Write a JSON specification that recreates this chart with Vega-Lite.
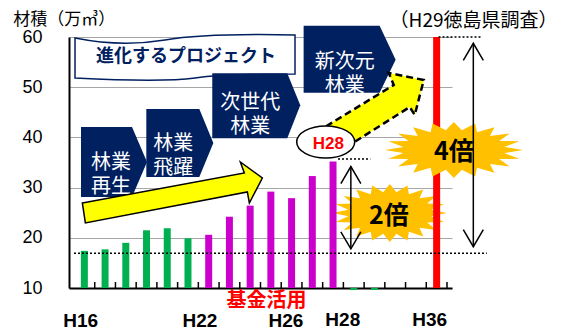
{
  "$schema": "https://vega.github.io/schema/vega-lite/v6.json",
  "width": 383,
  "height": 251,
  "autosize": {"type": "none"},
  "padding": {"left": 69, "top": 37, "right": 117, "bottom": 43},
  "background": "white",
  "config": {"view": {"stroke": null}, "font": "Noto Sans CJK JP"},
  "datasets": {
    "bars": [
      {"year": "H16", "i": 0, "v": 17.4, "g": "pre"},
      {"year": "H17", "i": 1, "v": 17.7, "g": "pre"},
      {"year": "H18", "i": 2, "v": 19.0, "g": "pre"},
      {"year": "H19", "i": 3, "v": 21.5, "g": "pre"},
      {"year": "H20", "i": 4, "v": 21.9, "g": "pre"},
      {"year": "H21", "i": 5, "v": 19.9, "g": "pre"},
      {"year": "H22", "i": 6, "v": 20.6, "g": "fund"},
      {"year": "H23", "i": 7, "v": 24.2, "g": "fund"},
      {"year": "H24", "i": 8, "v": 26.4, "g": "fund"},
      {"year": "H25", "i": 9, "v": 29.2, "g": "fund"},
      {"year": "H26", "i": 10, "v": 27.9, "g": "fund"},
      {"year": "H27", "i": 11, "v": 32.3, "g": "fund"},
      {"year": "H28", "i": 12, "v": 35.2, "g": "fund"},
      {"year": "H29", "i": 13, "v": 9.6, "g": "post"},
      {"year": "H30", "i": 14, "v": 9.6, "g": "post"},
      {"year": "H36", "i": 17, "v": 60, "g": "goal"}
    ],
    "ticks": [
      {"b": 0.5}, {"b": 1.5}, {"b": 2.5}, {"b": 3.5}, {"b": 4.5}, {"b": 5.5},
      {"b": 6.5}, {"b": 7.5}, {"b": 8.5}, {"b": 9.5}, {"b": 10.5}, {"b": 11.5},
      {"b": 12.5}, {"b": 13.5}, {"b": 14.5}, {"b": 15.5}, {"b": 16.5}, {"b": 17.5}
    ],
    "boxes": [
      {"name": "b1", "x": 1.286, "y": 34.9, "t": "林業\n再生"},
      {"name": "b2", "x": 4.293, "y": 38.69, "t": "林業\n飛躍"},
      {"name": "b3", "x": 8.006, "y": 46.79, "t": "次世代\n林業"},
      {"name": "b4", "x": 12.56, "y": 55.08, "t": "新次元\n林業"}
    ],
    "arrows": [
      {"x": 12.86, "top": 34.2, "bot": 17.8},
      {"x": 18.77, "top": 58.75, "bot": 18.23}
    ]
  },
  "layer": [
    {
      "data": {"values": [{"x": 14.74, "y": 24.94}]},
      "mark": {"type": "point", "shape": "M57,0 L41.5,3.3 L54.2,9 L37.4,9.5 L46.1,17 L29.7,14.8 L33.5,23.5 L19.1,18.7 L17.6,27.6 L6.6,20.7 L0,29 L-6.6,20.7 L-17.6,27.6 L-19.1,18.7 L-33.5,23.5 L-29.7,14.8 L-46.1,17 L-37.4,9.5 L-54.2,9 L-41.5,3.3 L-57,0 L-41.5,-3.3 L-54.2,-9 L-37.4,-9.5 L-46.1,-17 L-29.7,-14.8 L-33.5,-23.5 L-19.1,-18.7 L-17.6,-27.6 L-6.6,-20.7 L0,-29 L6.6,-20.7 L17.6,-27.6 L19.1,-18.7 L33.5,-23.5 L29.7,-14.8 L46.1,-17 L37.4,-9.5 L54.2,-9 L41.5,-3.3 Z", "size": 4, "filled": true, "fill": "#FFC000", "opacity": 1, "strokeWidth": 0},
      "encoding": {
        "x": {"field": "x", "type": "quantitative", "title": null, "scale": {"domain": [-0.5, 17.5], "nice": false, "zero": false},
          "axis": {"labels": false, "title": null, "grid": false, "ticks": false, "domain": true, "domainColor": "black", "domainWidth": 2}},
        "y": {"field": "y", "type": "quantitative", "title": null, "scale": {"domain": [10, 60], "nice": false, "zero": false},
          "axis": {"values": [10, 20, 30, 40, 50, 60], "title": null, "grid": true, "gridColor": "#A6A6A6", "gridWidth": 1, "ticks": false, "tickSize": 0, "labelPadding": 27, "labelFont": "Liberation Sans", "labelFontSize": 18, "labelColor": "black", "domain": true, "domainColor": "black", "domainWidth": 2}}
      }
    },
    {
      "data": {"name": "bars"},
      "mark": {"type": "bar", "size": 7},
      "encoding": {
        "x": {"field": "i", "type": "quantitative", "title": null},
        "y": {"field": "v", "type": "quantitative", "title": null},
        "y2": {"datum": 10},
        "color": {"field": "g", "type": "nominal", "scale": {"domain": ["pre", "fund", "post", "goal"], "range": ["#00B050", "#CC00CC", "#00B050", "#FF0000"]}, "legend": null}
      }
    },
    {
      "data": {"name": "ticks"},
      "mark": {"type": "rule", "color": "black", "strokeWidth": 1.5},
      "encoding": {
        "x": {"field": "b", "type": "quantitative", "title": null},
        "y": {"datum": 10},
        "y2": {"datum": 11.2}
      }
    },
    {
      "data": {"values": [
        {"x1": -0.5, "x2": 19.42, "y": 16.9},
        {"x1": 12.24, "x2": 13.8, "y": 35.7},
        {"x1": 17.09, "x2": 19.2, "y": 60}
      ]},
      "mark": {"type": "rule", "color": "black", "strokeDash": [2, 2], "strokeWidth": 1.5},
      "encoding": {
        "x": {"field": "x1", "type": "quantitative", "title": null},
        "x2": {"field": "x2"},
        "y": {"field": "y", "type": "quantitative", "title": null}
      }
    },
    {
      "data": {"values": [{"x": 4.857, "y": 55.82}]},
      "mark": {"type": "point", "shape": "M-110,-20C-80,-14 -50,-13 -20,-18C10,-23 60,-24 110,-23L110,16C80,16 40,16 10,20C-20,24 -70,22 -110,20Z", "size": 4, "filled": true, "fill": "white", "stroke": "#002060", "strokeWidth": 1.5, "opacity": 1},
      "encoding": {
        "x": {"field": "x", "type": "quantitative", "title": null},
        "y": {"field": "y", "type": "quantitative", "title": null}
      }
    },
    {
      "data": {"values": [{"x": 4.904, "y": 56.08, "t": "進化するプロジェクト"}]},
      "mark": {"type": "text", "font": "Noto Sans CJK JP", "fontSize": 18, "fontWeight": "bold", "color": "#002060", "align": "center", "baseline": "middle"},
      "encoding": {
        "x": {"field": "x", "type": "quantitative", "title": null},
        "y": {"field": "y", "type": "quantitative", "title": null},
        "text": {"field": "t"}
      }
    },
    {
      "data": {"name": "boxes"},
      "mark": {"type": "point", "size": 4, "filled": true, "fill": "#002060", "opacity": 1, "strokeWidth": 0},
      "encoding": {
        "x": {"field": "x", "type": "quantitative", "title": null},
        "y": {"field": "y", "type": "quantitative", "title": null},
        "shape": {"field": "name", "type": "nominal", "legend": null, "scale": {"domain": ["b1", "b2", "b3", "b4"], "range": [
          "M-30,-36L21,-36L36,-1L21,34L-30,34Z",
          "M-27,-35L26,-35L40,-1L26,33L-27,33Z",
          "M-38,-30L37,-30L50,2L37,35L-38,35Z",
          "M-41,-36L35,-36L51,-2L35,31L-41,31Z"
        ]}}
      }
    },
    {
      "data": {"name": "boxes"},
      "mark": {"type": "text", "font": "Noto Sans CJK JP", "fontSize": 20, "color": "white", "align": "center", "baseline": "middle", "lineBreak": "\n", "lineHeight": 24},
      "encoding": {
        "x": {"field": "x", "type": "quantitative", "title": null},
        "y": {"field": "y", "type": "quantitative", "title": null},
        "text": {"field": "t"}
      }
    },
    {
      "data": {"values": [{"x": 4.246, "y": 28.53}]},
      "mark": {"type": "point", "shape": "M-90,8L72,-22L68,-33L90,-17L77,8L75,-3L-87,28Z", "size": 4, "filled": true, "fill": "#FFFF00", "stroke": "black", "strokeWidth": 1.5, "opacity": 1},
      "encoding": {
        "x": {"field": "x", "type": "quantitative", "title": null},
        "y": {"field": "y", "type": "quantitative", "title": null}
      }
    },
    {
      "data": {"values": [{"x": 14.11, "y": 45.46}]},
      "mark": {"type": "point", "shape": "M-60,22L17,-25L12,-37L47,-30L38,5L33,-3L-35,40Z", "size": 4, "filled": true, "fill": "#FFFF00", "stroke": "black", "strokeWidth": 2.5, "strokeDash": [7, 4], "opacity": 1},
      "encoding": {
        "x": {"field": "x", "type": "quantitative", "title": null},
        "y": {"field": "y", "type": "quantitative", "title": null}
      }
    },
    {
      "data": {"values": [{"x": 11.647, "y": 39.08}]},
      "mark": {"type": "point", "shape": "M-29,0C-29,-8.8 -16,-16 0,-16C16,-16 29,-8.8 29,0C29,8.8 16,16 0,16C-16,16 -29,8.8 -29,0Z", "size": 4, "filled": true, "fill": "white", "stroke": "black", "strokeWidth": 1.5, "opacity": 1},
      "encoding": {
        "x": {"field": "x", "type": "quantitative", "title": null},
        "y": {"field": "y", "type": "quantitative", "title": null}
      }
    },
    {
      "data": {"values": [{"x": 11.77, "y": 38.63, "t": "H28"}]},
      "mark": {"type": "text", "font": "Liberation Sans", "fontSize": 17, "fontWeight": "bold", "color": "#FF0000", "align": "center", "baseline": "middle"},
      "encoding": {
        "x": {"field": "x", "type": "quantitative", "title": null},
        "y": {"field": "y", "type": "quantitative", "title": null},
        "text": {"field": "t"}
      }
    },
    {
      "data": {"values": [{"x": 17.83, "y": 37.49}]},
      "mark": {"type": "point", "shape": "M69,0 L50.4,3.1 L65.6,8.7 L45.4,9.1 L55.8,16.5 L36.1,14.1 L40.6,22.7 L23.2,17.8 L21.3,26.6 L8,19.8 L0,28 L-8,19.8 L-21.3,26.6 L-23.2,17.8 L-40.6,22.7 L-36.1,14.1 L-55.8,16.5 L-45.4,9.1 L-65.6,8.7 L-50.4,3.1 L-69,0 L-50.4,-3.1 L-65.6,-8.7 L-45.4,-9.1 L-55.8,-16.5 L-36.1,-14.1 L-40.6,-22.7 L-23.2,-17.8 L-21.3,-26.6 L-8,-19.8 L0,-28 L8,-19.8 L21.3,-26.6 L23.2,-17.8 L40.6,-22.7 L36.1,-14.1 L55.8,-16.5 L45.4,-9.1 L65.6,-8.7 L50.4,-3.1 Z", "size": 4, "filled": true, "fill": "#FFC000", "opacity": 1, "strokeWidth": 0},
      "encoding": {
        "x": {"field": "x", "type": "quantitative", "title": null},
        "y": {"field": "y", "type": "quantitative", "title": null}
      }
    },
    {
      "data": {"values": [
        {"x": 14.69, "y": 24.34, "t": "2倍"},
        {"x": 17.83, "y": 37.15, "t": "4倍"}
      ]},
      "mark": {"type": "text", "font": "Noto Sans CJK JP", "fontSize": 25, "fontWeight": "bold", "color": "black", "align": "center", "baseline": "middle"},
      "encoding": {
        "x": {"field": "x", "type": "quantitative", "title": null},
        "y": {"field": "y", "type": "quantitative", "title": null},
        "text": {"field": "t"}
      }
    },
    {
      "data": {"name": "arrows"},
      "mark": {"type": "rule", "color": "black", "strokeWidth": 1.5},
      "encoding": {
        "x": {"field": "x", "type": "quantitative", "title": null},
        "y": {"field": "top", "type": "quantitative", "title": null},
        "y2": {"field": "bot"}
      }
    },
    {
      "data": {"name": "arrows"},
      "mark": {"type": "point", "shape": "M-10,17L0,0L10,17", "size": 4, "filled": false, "stroke": "black", "strokeWidth": 1.5, "opacity": 1},
      "encoding": {
        "x": {"field": "x", "type": "quantitative", "title": null},
        "y": {"field": "top", "type": "quantitative", "title": null}
      }
    },
    {
      "data": {"name": "arrows"},
      "mark": {"type": "point", "shape": "M-10,-17L0,0L10,-17", "size": 4, "filled": false, "stroke": "black", "strokeWidth": 1.5, "opacity": 1},
      "encoding": {
        "x": {"field": "x", "type": "quantitative", "title": null},
        "y": {"field": "bot", "type": "quantitative", "title": null}
      }
    },
    {
      "data": {"values": [
        {"t": "H16", "x": -0.18, "y": 3.45},
        {"t": "H22", "x": 5.58, "y": 3.45},
        {"t": "H26", "x": 9.73, "y": 3.45},
        {"t": "H28", "x": 12.47, "y": 3.6},
        {"t": "H36", "x": 16.66, "y": 3.6}
      ]},
      "mark": {"type": "text", "font": "Liberation Sans", "fontSize": 19, "fontWeight": "bold", "color": "black", "align": "center", "baseline": "middle"},
      "encoding": {
        "x": {"field": "x", "type": "quantitative", "title": null},
        "y": {"field": "y", "type": "quantitative", "title": null},
        "text": {"field": "t"}
      }
    },
    {
      "data": {"values": [{"x": 8.79, "y": 7.45, "t": "基金活用"}]},
      "mark": {"type": "text", "font": "Noto Sans CJK JP", "fontSize": 20, "fontWeight": "bold", "color": "#FF0000", "align": "center", "baseline": "middle"},
      "encoding": {
        "x": {"field": "x", "type": "quantitative", "title": null},
        "y": {"field": "y", "type": "quantitative", "title": null},
        "text": {"field": "t"}
      }
    },
    {
      "data": {"values": [{"x": -3.43, "y": 63.39, "t": "材積（万㎥）"}]},
      "mark": {"type": "text", "font": "Noto Sans CJK JP", "fontSize": 17, "color": "black", "align": "left", "baseline": "middle"},
      "encoding": {
        "x": {"field": "x", "type": "quantitative", "title": null},
        "y": {"field": "y", "type": "quantitative", "title": null},
        "text": {"field": "t"}
      }
    },
    {
      "data": {"values": [{"x": 14.73, "y": 63.19, "t": "（H29徳島県調査）"}]},
      "mark": {"type": "text", "font": "Noto Sans CJK JP", "fontSize": 19, "color": "black", "align": "left", "baseline": "middle"},
      "encoding": {
        "x": {"field": "x", "type": "quantitative", "title": null},
        "y": {"field": "y", "type": "quantitative", "title": null},
        "text": {"field": "t"}
      }
    }
  ]
}
